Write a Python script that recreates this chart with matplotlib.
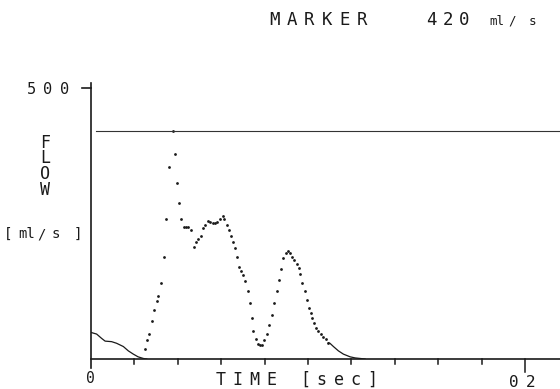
import matplotlib
matplotlib.use("Agg")
import matplotlib.pyplot as plt

W, H = 560, 389

# flow samples (dotted trace): time in ms, flow in ml/s
flow_t = [24.9, 26.0, 26.6, 28.0, 29.0, 30.3, 31.0, 32.1, 33.5, 34.6,
          35.8, 37.6, 38.8, 39.5, 40.7, 41.5, 42.7, 43.8, 44.8, 46.1,
          47.3, 48.2, 49.2, 50.6, 51.5, 52.5, 53.8, 54.8, 56.1, 57.1,
          58.2, 59.4, 60.7, 61.4, 62.7, 63.5, 64.5, 65.6, 66.4, 67.3,
          68.3, 69.3, 70.2, 71.0, 72.4, 73.3, 74.1, 74.8, 75.9, 77.1,
          77.9, 78.9, 79.9, 81.0, 82.0, 83.3, 84.5, 85.6, 86.6, 87.7,
          88.6, 89.9, 90.8, 91.7, 92.8, 93.7, 94.8, 95.9, 96.5, 97.4,
          98.5, 99.4, 100.5, 101.2, 102.0, 102.9, 103.7, 104.7, 105.9, 107.0,
          108.2, 109.4]
flow_v = [18, 35, 47, 70, 90, 107, 117, 141, 189, 258,
          355, 420, 379, 325, 288, 258, 244, 243, 244, 238,
          207, 215, 221, 227, 241, 247, 255, 253, 251, 251,
          253, 259, 264, 258, 247, 238, 227, 215, 204, 188,
          170, 163, 155, 143, 125, 103, 75, 52, 37, 27,
          25, 25, 35, 47, 63, 82, 103, 125, 146, 166,
          187, 196, 199, 195, 189, 183, 175, 167, 156, 140,
          125, 109, 94, 84, 75, 66, 57, 52, 47, 41,
          36, 30]

# end of the flow trace, dense enough to print as a line
tail_t = [109.4, 110.1, 111.7, 114.0, 116.3, 119.4, 121.7, 124.0, 126.3]
tail_v = [30, 29, 23, 15, 9, 4, 2, 1, 0]

# second trace (solid) at the start
lead_t = [0.0, 2.6, 4.9, 6.5, 9.5, 11.8, 14.9, 17.2, 19.5, 21.7, 24.1, 25.7]
lead_v = [49, 46, 38, 33, 32, 29, 23, 15, 9, 4, 1, 0]

marker = 420
x_ticks = [0.02 * i for i in range(1, 10)]
x_max = 0.2161
ink = "#1a1a1a"

fig = plt.figure(figsize=(W / 100, H / 100), dpi=100)
ax = fig.add_axes([91 / W, (H - 359) / H, (W - 91) / W, 271 / H])
ax.set_xlim(0, x_max)
ax.set_ylim(0, 500)
ax.axis("off")

ax.plot([t / 1000 for t in flow_t], flow_v, ls="none", marker="o",
        ms=2.0, mew=0, color=ink, clip_on=False)
ax.plot([t / 1000 for t in tail_t], tail_v, lw=0.9, color=ink)
ax.plot([t / 1000 for t in lead_t], lead_v, lw=0.9, color=ink)

ax.plot([0.0023, x_max], [marker, marker], lw=0.8, color="#333333", clip_on=False)

# axes drawn by hand, plotter style
ax.plot([0, 0], [-16.6, 509], lw=1.2, color=ink, clip_on=False)
ax.plot([0, x_max], [0, 0], lw=1.2, color=ink, clip_on=False)
ax.plot([-0.0042, 0], [500, 500], lw=1.2, color=ink, clip_on=False)
for t in x_ticks:
    ax.plot([t, t], [0, -9], lw=1.1, color=ink, clip_on=False)
ax.plot([0.2, 0.2], [0, -24], lw=1.1, color=ink, clip_on=False)


def chars(xs, y, s, size):
    # one glyph per position, baseline y in pixels from the top
    for x, ch in zip(xs, s):
        fig.text(x / W, 1 - y / H, ch, ha="center", va="baseline",
                 fontsize=size, family="DejaVu Sans Mono", color=ink)


chars([274 + 17.6 * i for i in range(6)], 25, "MARKER", 12.5)
chars([431, 447.5, 464], 25, "420", 12.5)
chars([497, 512, 532], 25, ["ml", "/", "s"], 9)

chars([31, 47.5, 65], 94, "500", 11)
# vertical FLOW label, one letter per line
fig.text(45 / W, 1 - 195 / H, "F\nL\nO\nW", ha="center", va="baseline",
         multialignment="center", linespacing=0.84, fontsize=12,
         family="DejaVu Sans Mono", color=ink)
chars([8, 27, 41, 56, 78], 238, ["[", "ml", "/", "s", "]"], 10)

chars([90], 383, "0", 10.5)
chars([221 + 16.8 * i for i in range(10)], 385, "TIME [sec]", 12)
chars([514, 531], 387, "02", 11.5)

fig.savefig("out.png", dpi=100)
